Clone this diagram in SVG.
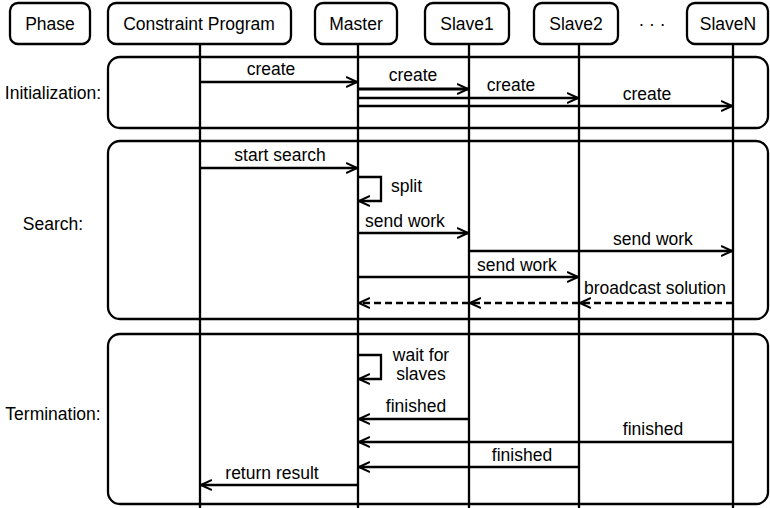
<svg xmlns="http://www.w3.org/2000/svg" width="770" height="508" viewBox="0 0 770 508">
<style>
text{font-family:"Liberation Sans",Arial,sans-serif;font-size:17.5px;fill:#000}
.c{text-anchor:middle}
.hdr{fill:#fff;stroke:#000;stroke-width:2.3}
.phase{fill:none;stroke:#000;stroke-width:2.3}
.life{stroke:#000;stroke-width:2.3}
.msg{fill:none;stroke:#000;stroke-width:2.3;marker-end:url(#ah)}
.dash{stroke-dasharray:7 4}
</style>
<defs>
<marker id="ah" viewBox="0 0 12 12" refX="11" refY="6" markerWidth="12" markerHeight="12" markerUnits="userSpaceOnUse" orient="auto">
<path d="M0,1 L11,6 L0,11" fill="none" stroke="#000" stroke-width="2"/>
</marker>
</defs>
<g id="phases">
<rect class="phase" x="108" y="57" width="660" height="71" rx="12"/>
<rect class="phase" x="108" y="141" width="660" height="178" rx="12"/>
<rect class="phase" x="108" y="334" width="660" height="170" rx="12"/>
<text class="c" x="53" y="99">Initialization:</text>
<text class="c" x="53" y="230">Search:</text>
<text class="c" x="53" y="420">Termination:</text>
</g>
<g id="lifelines">
<line class="life" x1="200" y1="44" x2="200" y2="508"/>
<line class="life" x1="358" y1="44" x2="358" y2="508"/>
<line class="life" x1="469" y1="44" x2="469" y2="508"/>
<line class="life" x1="579" y1="44" x2="579" y2="508"/>
<line class="life" x1="733" y1="44" x2="733" y2="508"/>
</g>
<g id="phase-header">
<rect class="hdr" x="10" y="3" width="80" height="41" rx="8"/>
<text class="c" x="50" y="30">Phase</text>
</g>
<g id="constraint-program">
<rect class="hdr" x="108" y="3" width="183" height="41" rx="8"/>
<text class="c" x="199" y="30">Constraint Program</text>
</g>
<g id="master">
<rect class="hdr" x="315" y="3" width="82" height="41" rx="8"/>
<text class="c" x="356" y="30">Master</text>
</g>
<g id="slave1">
<rect class="hdr" x="425" y="3" width="84" height="41" rx="8"/>
<text class="c" x="467" y="30">Slave1</text>
</g>
<g id="slave2">
<rect class="hdr" x="534" y="3" width="84" height="41" rx="8"/>
<text class="c" x="576" y="30">Slave2</text>
</g>
<g id="dots">
<text class="c" x="652" y="30">· · ·</text>
</g>
<g id="slaveN">
<rect class="hdr" x="687" y="3" width="81" height="41" rx="8"/>
<text class="c" x="728" y="30">SlaveN</text>
</g>
<g id="connectors">
<line class="msg" x1="200" y1="82" x2="357" y2="82"/>
<text class="c" x="271" y="75">create</text>
<line class="msg" x1="358" y1="89" x2="468" y2="89" style="stroke-width:3"/>
<text class="c" x="413" y="81">create</text>
<line class="msg" x1="358" y1="98" x2="578" y2="98"/>
<text class="c" x="511" y="91">create</text>
<line class="msg" x1="358" y1="106" x2="732" y2="106"/>
<text class="c" x="647" y="100">create</text>

<line class="msg" x1="200" y1="168" x2="357" y2="168"/>
<text class="c" x="280" y="161">start search</text>
<polyline class="msg" points="358,177 381,177 381,201 359,201"/>
<text x="391" y="192">split</text>
<line class="msg" x1="358" y1="233" x2="468" y2="233"/>
<text class="c" x="405" y="227">send work</text>
<line class="msg" x1="469" y1="251" x2="732" y2="251"/>
<text class="c" x="653" y="245">send work</text>
<line class="msg" x1="358" y1="277" x2="578" y2="277"/>
<text class="c" x="517" y="271">send work</text>
<line class="msg dash" x1="733" y1="303" x2="580" y2="303"/>
<line class="msg dash" x1="579" y1="303" x2="470" y2="303"/>
<line class="msg dash" x1="469" y1="303" x2="359" y2="303"/>
<text class="c" x="655" y="294">broadcast solution</text>

<polyline class="msg" points="358,355 381,355 381,379 359,379"/>
<text class="c" x="421" y="361">wait for</text>
<text class="c" x="421" y="380">slaves</text>
<line class="msg" x1="469" y1="419" x2="359" y2="419"/>
<text class="c" x="416" y="412">finished</text>
<line class="msg" x1="733" y1="442" x2="359" y2="442"/>
<text class="c" x="653" y="435">finished</text>
<line class="msg" x1="579" y1="467" x2="359" y2="467"/>
<text class="c" x="522" y="461">finished</text>
<line class="msg" x1="358" y1="485" x2="201" y2="485"/>
<text class="c" x="272" y="479">return result</text>
</g>
</svg>
